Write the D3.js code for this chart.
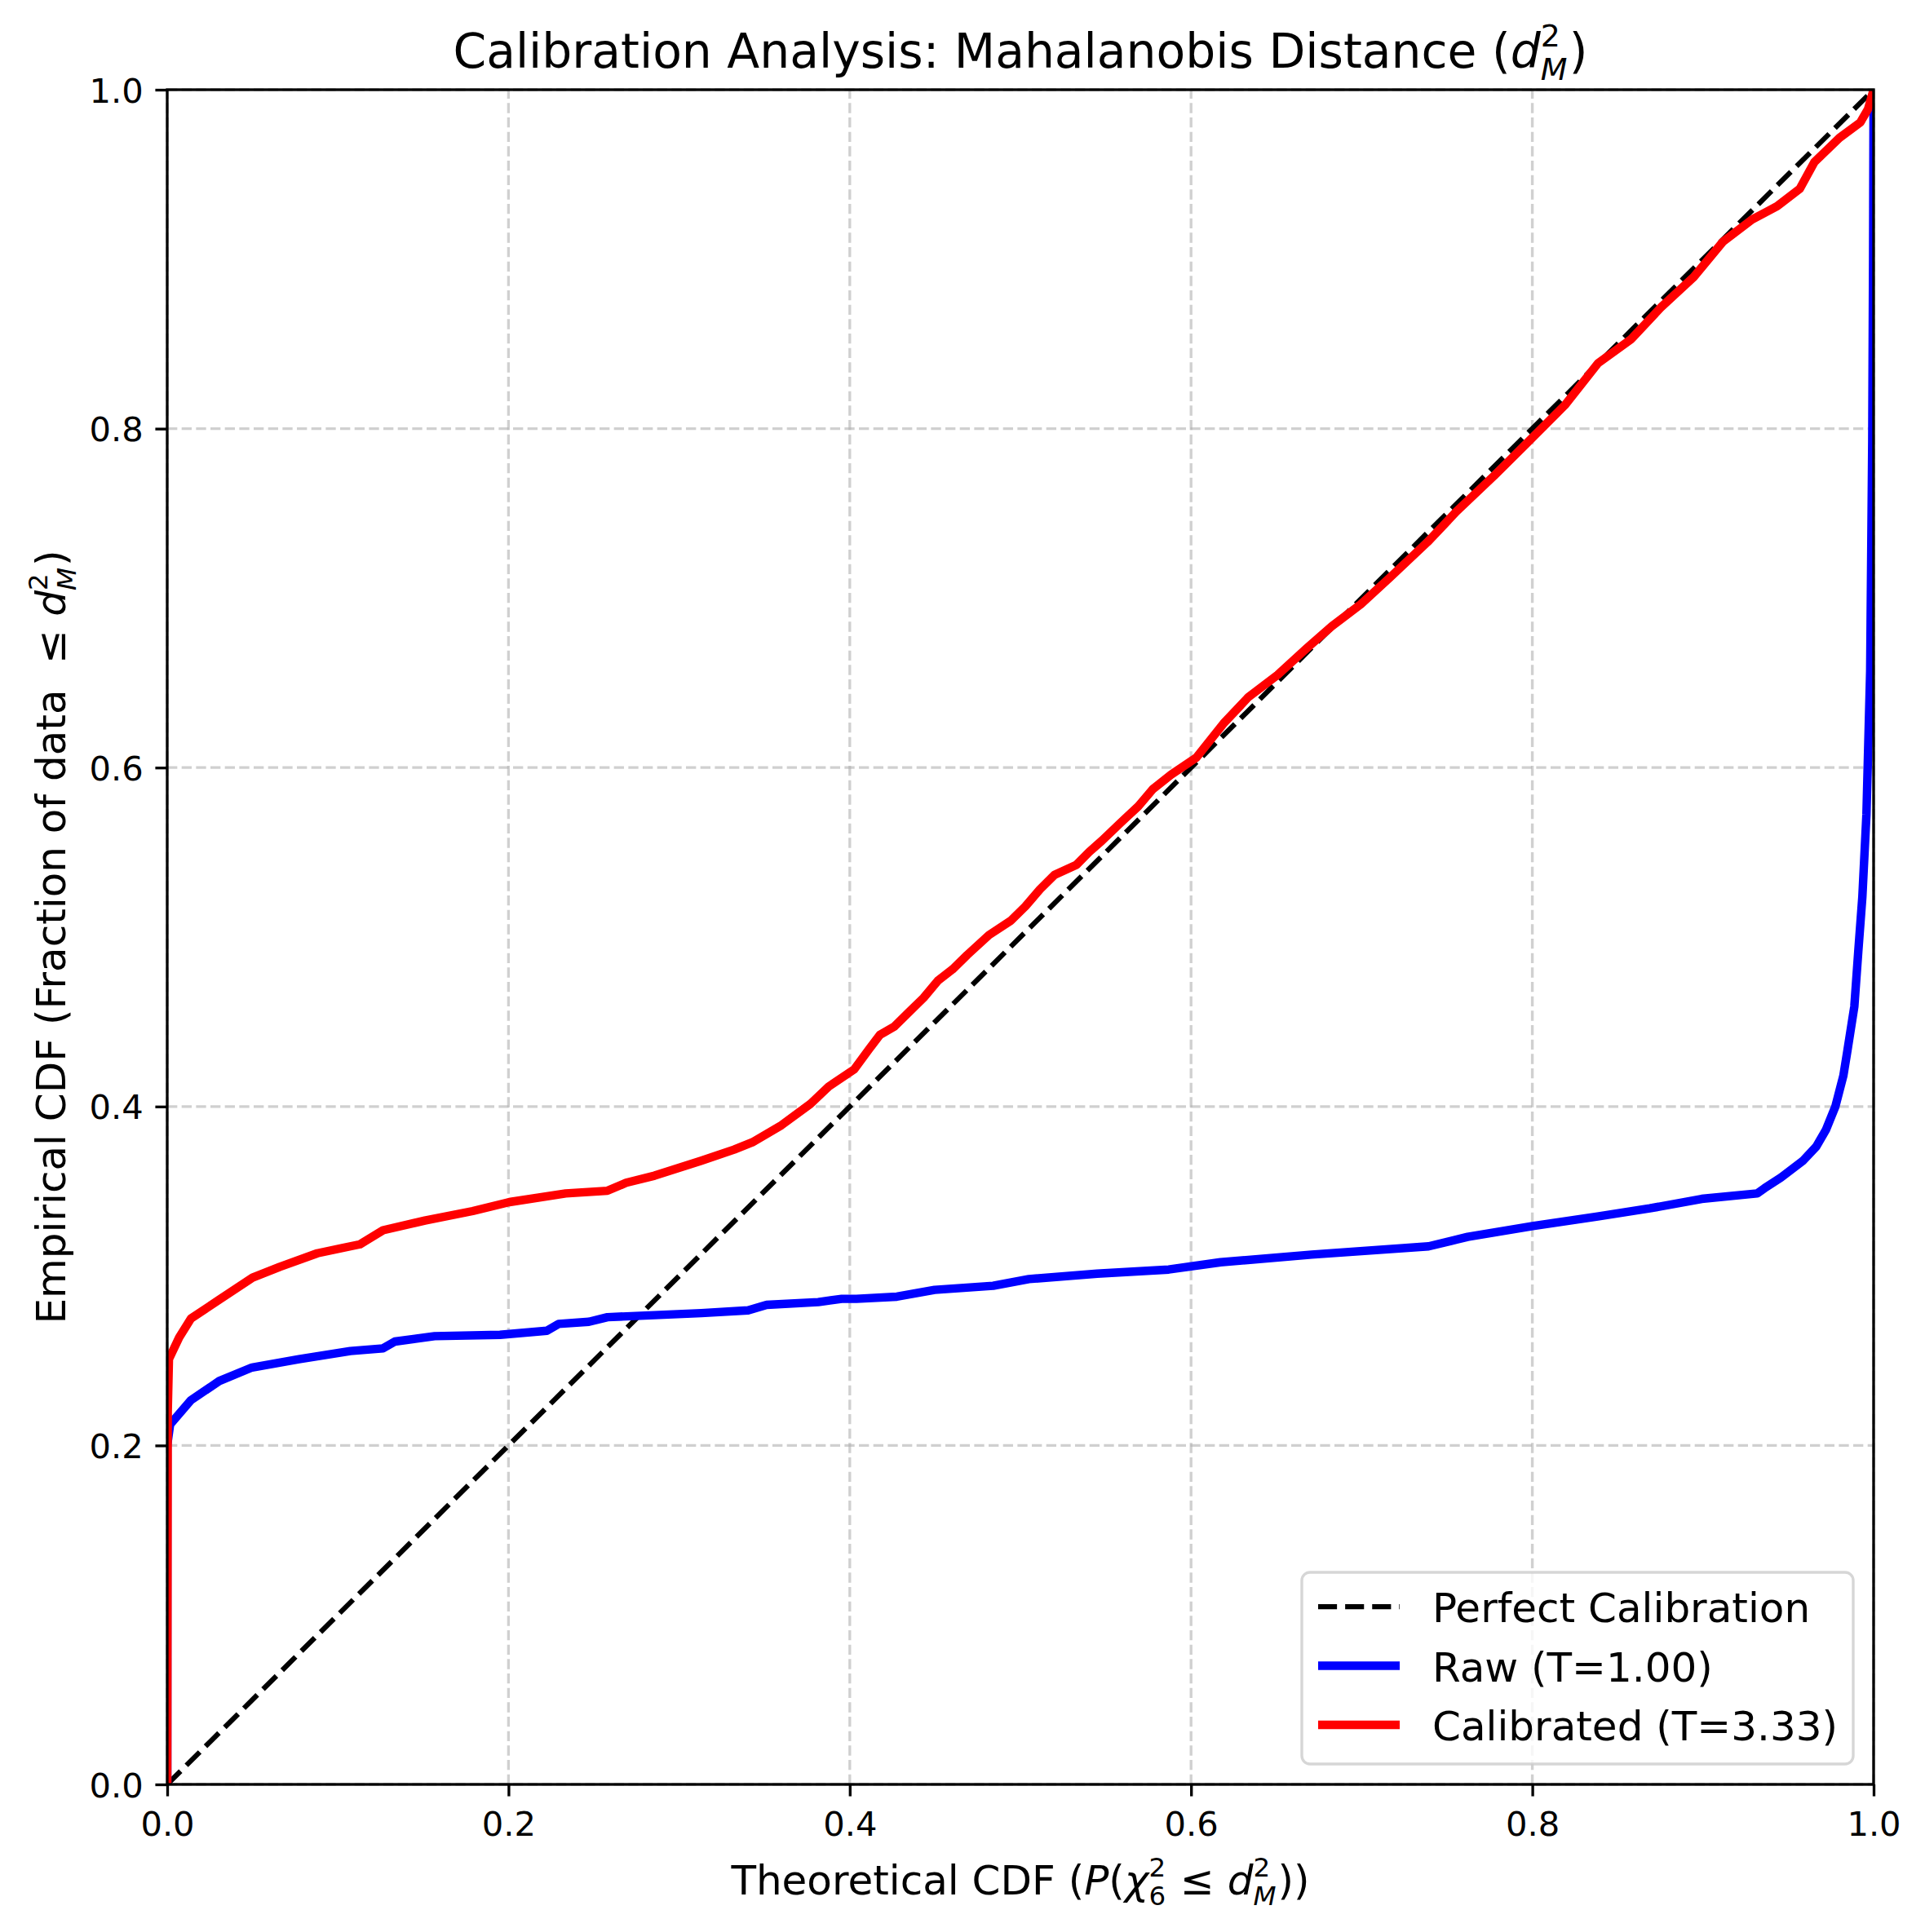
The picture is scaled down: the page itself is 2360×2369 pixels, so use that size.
<!DOCTYPE html>
<html lang="en">
<head>
<meta charset="UTF-8">
<title>Calibration Analysis</title>
<style>
  body { margin: 0; background: #fff; }
  svg text { font-family: "DejaVu Sans", sans-serif; white-space: pre; }
</style>
</head>
<body>
<script src="https://d3js.org/d3.v7.min.js"></script>
<div id="chart"></div>
<script>
// ---- data ----
const rawX = [0, 0, 0.0017, 0.014, 0.0305, 0.0497, 0.0772, 0.1073, 0.1265, 0.1334, 0.1567, 0.195, 0.2225, 0.2293,
  0.2471, 0.258, 0.313, 0.3404, 0.3513, 0.3815, 0.3953, 0.4039, 0.4276, 0.4497, 0.484, 0.505, 0.545, 0.5869, 0.6173,
  0.6707, 0.7392, 0.7621, 0.8002, 0.8383, 0.8688, 0.8993, 0.9317, 0.9361, 0.9457, 0.9584, 0.9664, 0.972, 0.9776,
  0.9823, 0.9847, 0.9887, 0.991, 0.9934, 0.9958, 0.998, 0.9992, 0.9997, 1.0];
const rawY = [0, 0.2, 0.2124, 0.2268, 0.238, 0.246, 0.2509, 0.2557, 0.2573, 0.2613, 0.2645, 0.2653, 0.2677, 0.2717,
  0.273, 0.2757, 0.2781, 0.2797, 0.283, 0.2846, 0.2865, 0.2865, 0.2878, 0.2918, 0.2942, 0.2982, 0.3014, 0.3038, 0.3081,
  0.3126, 0.3175, 0.3231, 0.3295, 0.3351, 0.3399, 0.3455, 0.3487, 0.3518, 0.3581, 0.3678, 0.3764, 0.3861, 0.4,
  0.4183, 0.4333, 0.459, 0.4913, 0.5236, 0.5723, 0.657, 0.7923, 0.9, 1.0];

const calX = [0, 0.0003, 0.001, 0.007, 0.014, 0.0305, 0.05, 0.066, 0.088, 0.113, 0.1265, 0.151, 0.179, 0.2005,
  0.2335, 0.258, 0.269, 0.2856, 0.313, 0.3322, 0.3429, 0.36, 0.377, 0.3877, 0.4026, 0.4112, 0.4176, 0.4261, 0.4347,
  0.4432, 0.4517, 0.4603, 0.4688, 0.4816, 0.4944, 0.5029, 0.5115, 0.52, 0.5328, 0.5403, 0.5478, 0.5584, 0.5691,
  0.5776, 0.5883, 0.603, 0.619, 0.6337, 0.6507, 0.6678, 0.6825, 0.6995, 0.7165, 0.7385, 0.7556, 0.7775, 0.797,
  0.819, 0.8385, 0.858, 0.8751, 0.8946, 0.9117, 0.9288, 0.9434, 0.9568, 0.9653, 0.98, 0.9922, 0.9967, 1.0];
const calY = [0, 0.22, 0.251, 0.2637, 0.275, 0.286, 0.299, 0.3054, 0.3134, 0.3187, 0.327, 0.3327, 0.3383, 0.3436,
  0.3487, 0.3503, 0.355, 0.3592, 0.368, 0.3746, 0.3789, 0.389, 0.4016, 0.4118, 0.4219, 0.4337, 0.4422, 0.4472, 0.4557,
  0.4641, 0.4743, 0.481, 0.4894, 0.5012, 0.5097, 0.5181, 0.5282, 0.5367, 0.5426, 0.5502, 0.5569, 0.5671, 0.5772,
  0.5873, 0.5958, 0.6058, 0.626, 0.6417, 0.6547, 0.6704, 0.6834, 0.6964, 0.7121, 0.733, 0.7512, 0.7721, 0.7916,
  0.8138, 0.8386, 0.8529, 0.8713, 0.8895, 0.9103, 0.9234, 0.9312, 0.9416, 0.9573, 0.9716, 0.9807, 0.9885, 1.0];

const diagX = [0, 1];
const diagY = [0, 1];
const tickValues = [0, 0.2, 0.4, 0.6, 0.8, 1.0];
const legendLabels = ["Perfect Calibration", "Raw (T=1.00)", "Calibrated (T=3.33)"];

// ---- layout (300 dpi, so 1pt = 300/72 px) ----
const pt = 300 / 72;
const width = 2360, height = 2369;
const margin = {top: 110, right: 63, bottom: 181, left: 205};
const plotW = width - margin.left - margin.right;
const plotH = height - margin.top - margin.bottom;

const svg = d3.select("#chart").append("svg")
  .attr("width", width).attr("height", height)
  .style("background", "#fff");

const x = d3.scaleLinear().domain([0, 1]).range([margin.left, margin.left + plotW]);
const y = d3.scaleLinear().domain([0, 1]).range([margin.top + plotH, margin.top]);

// text with mathtext style super/subscripts, centred on 0
function mathText(g, parts, size) {
  const inner = g.append("g");
  let cx = 0;
  parts.forEach(p => {
    if (p.sup !== undefined) {
      const s = size * 0.65;
      const a = inner.append("text").attr("x", cx).attr("y", -size * 0.45)
        .style("font-size", s + "px").text(p.sup);
      const b = inner.append("text").attr("x", cx).attr("y", size * 0.26)
        .style("font-size", s + "px").style("font-style", p.subIt ? "italic" : "normal").text(p.sub);
      cx += Math.max(a.node().getComputedTextLength(), b.node().getComputedTextLength()) + size * 0.04;
    } else {
      const t = inner.append("text").attr("x", cx).attr("y", 0)
        .style("font-size", size + "px").style("font-style", p.it ? "italic" : "normal").text(p.t);
      cx += t.node().getComputedTextLength();
    }
  });
  inner.attr("transform", `translate(${-cx / 2},0)`);
}

// clip for the data lines
svg.append("clipPath").attr("id", "plotclip").append("rect")
  .attr("x", margin.left).attr("y", margin.top).attr("width", plotW).attr("height", plotH);

// grid
const grid = svg.append("g").attr("stroke", "#b0b0b0").attr("stroke-opacity", 0.6)
  .attr("stroke-width", 0.8 * pt).attr("stroke-dasharray", `${2.96 * pt},${1.28 * pt}`);
grid.selectAll(".gx").data(tickValues).enter().append("line")
  .attr("x1", d => x(d)).attr("x2", d => x(d)).attr("y1", y(0)).attr("y2", y(1));
grid.selectAll(".gy").data(tickValues).enter().append("line")
  .attr("y1", d => y(d)).attr("y2", d => y(d)).attr("x1", x(0)).attr("x2", x(1));

// lines
const line = d3.line().x(d => x(d[0])).y(d => y(d[1]));
const lines = svg.append("g").attr("clip-path", "url(#plotclip)").attr("fill", "none");
lines.append("path").attr("d", line(d3.zip(diagX, diagY)))
  .attr("stroke", "#000").attr("stroke-width", 1.5 * pt)
  .attr("stroke-dasharray", `${5.55 * pt},${2.4 * pt}`);
lines.append("path").attr("d", line(d3.zip(rawX, rawY)))
  .attr("stroke", "#0000ff").attr("stroke-width", 2.5 * pt).attr("stroke-linejoin", "round");
lines.append("path").attr("d", line(d3.zip(calX, calY)))
  .attr("stroke", "#ff0000").attr("stroke-width", 2.5 * pt).attr("stroke-linejoin", "round");

// axes
const fmt = d3.format(".1f");
const gx = svg.append("g").attr("transform", `translate(0,${y(0)})`)
  .call(d3.axisBottom(x).tickValues(tickValues).tickFormat(fmt).tickSizeInner(3.5 * pt).tickSizeOuter(0).tickPadding(19));
const gy = svg.append("g").attr("transform", `translate(${x(0)},0)`)
  .call(d3.axisLeft(y).tickValues(tickValues).tickFormat(fmt).tickSizeInner(3.5 * pt).tickSizeOuter(0).tickPadding(3.5 * pt));
[gx, gy].forEach(g => {
  g.select(".domain").remove();
  g.selectAll(".tick line").attr("stroke", "#000").attr("stroke-width", 0.8 * pt);
  g.selectAll(".tick text").attr("fill", "#000").style("font-size", (10 * pt) + "px")
    .style("font-family", "'DejaVu Sans', sans-serif");
});
gy.selectAll(".tick text").attr("dy", "0.36em");

// spines
svg.append("rect").attr("x", x(0)).attr("y", y(1)).attr("width", plotW).attr("height", plotH)
  .attr("fill", "none").attr("stroke", "#000").attr("stroke-width", 0.8 * pt);

// title and axis labels
const title = svg.append("g").attr("transform", `translate(${margin.left + plotW / 2},83)`);
mathText(title, [{t: "Calibration Analysis: Mahalanobis Distance ("}, {t: "d", it: true},
  {sup: "2", sub: "M", subIt: true}, {t: ")"}], 14 * pt);

const xlab = svg.append("g").attr("transform", `translate(${margin.left + plotW / 2},2323)`);
mathText(xlab, [{t: "Theoretical CDF ("}, {t: "P", it: true}, {t: "("}, {t: "\u03c7", it: true},
  {sup: "2", sub: "6"}, {t: " \u2264 "}, {t: "d", it: true}, {sup: "2", sub: "M", subIt: true}, {t: "))"}], 12 * pt);

const ylab = svg.append("g").attr("transform", `translate(80,${margin.top + plotH / 2}) rotate(-90)`);
mathText(ylab, [{t: "Empirical CDF (Fraction of data  \u2264 "}, {t: "d", it: true},
  {sup: "2", sub: "M", subIt: true}, {t: ")"}], 12 * pt);

// legend, lower right
const legW = 676, legH = 235;
const legX = x(1) - 0.5 * 12 * pt - legW, legY = y(0) - 0.5 * 12 * pt - legH;
const legend = svg.append("g").attr("transform", `translate(${legX},${legY})`);
legend.append("rect").attr("width", legW).attr("height", legH).attr("rx", 10).attr("ry", 10)
  .attr("fill", "#fff").attr("fill-opacity", 0.8)
  .attr("stroke", "#cccccc").attr("stroke-opacity", 0.8).attr("stroke-width", 0.8 * pt);
const legStyles = [
  {color: "#000", w: 1.5 * pt, dash: `${5.55 * pt},${2.4 * pt}`},
  {color: "#0000ff", w: 2.5 * pt, dash: null},
  {color: "#ff0000", w: 2.5 * pt, dash: null}
];
const rows = legend.selectAll(".row").data(legendLabels).enter().append("g")
  .attr("transform", (d, i) => `translate(0,${42 + i * 72.5})`);
rows.append("line").attr("x1", 20).attr("x2", 120).attr("y1", 0).attr("y2", 0)
  .attr("stroke", (d, i) => legStyles[i].color).attr("stroke-width", (d, i) => legStyles[i].w)
  .attr("stroke-dasharray", (d, i) => legStyles[i].dash);
rows.append("text").attr("x", 160).attr("y", 19).style("font-size", (12 * pt) + "px").text(d => d);
</script>
</body>
</html>
